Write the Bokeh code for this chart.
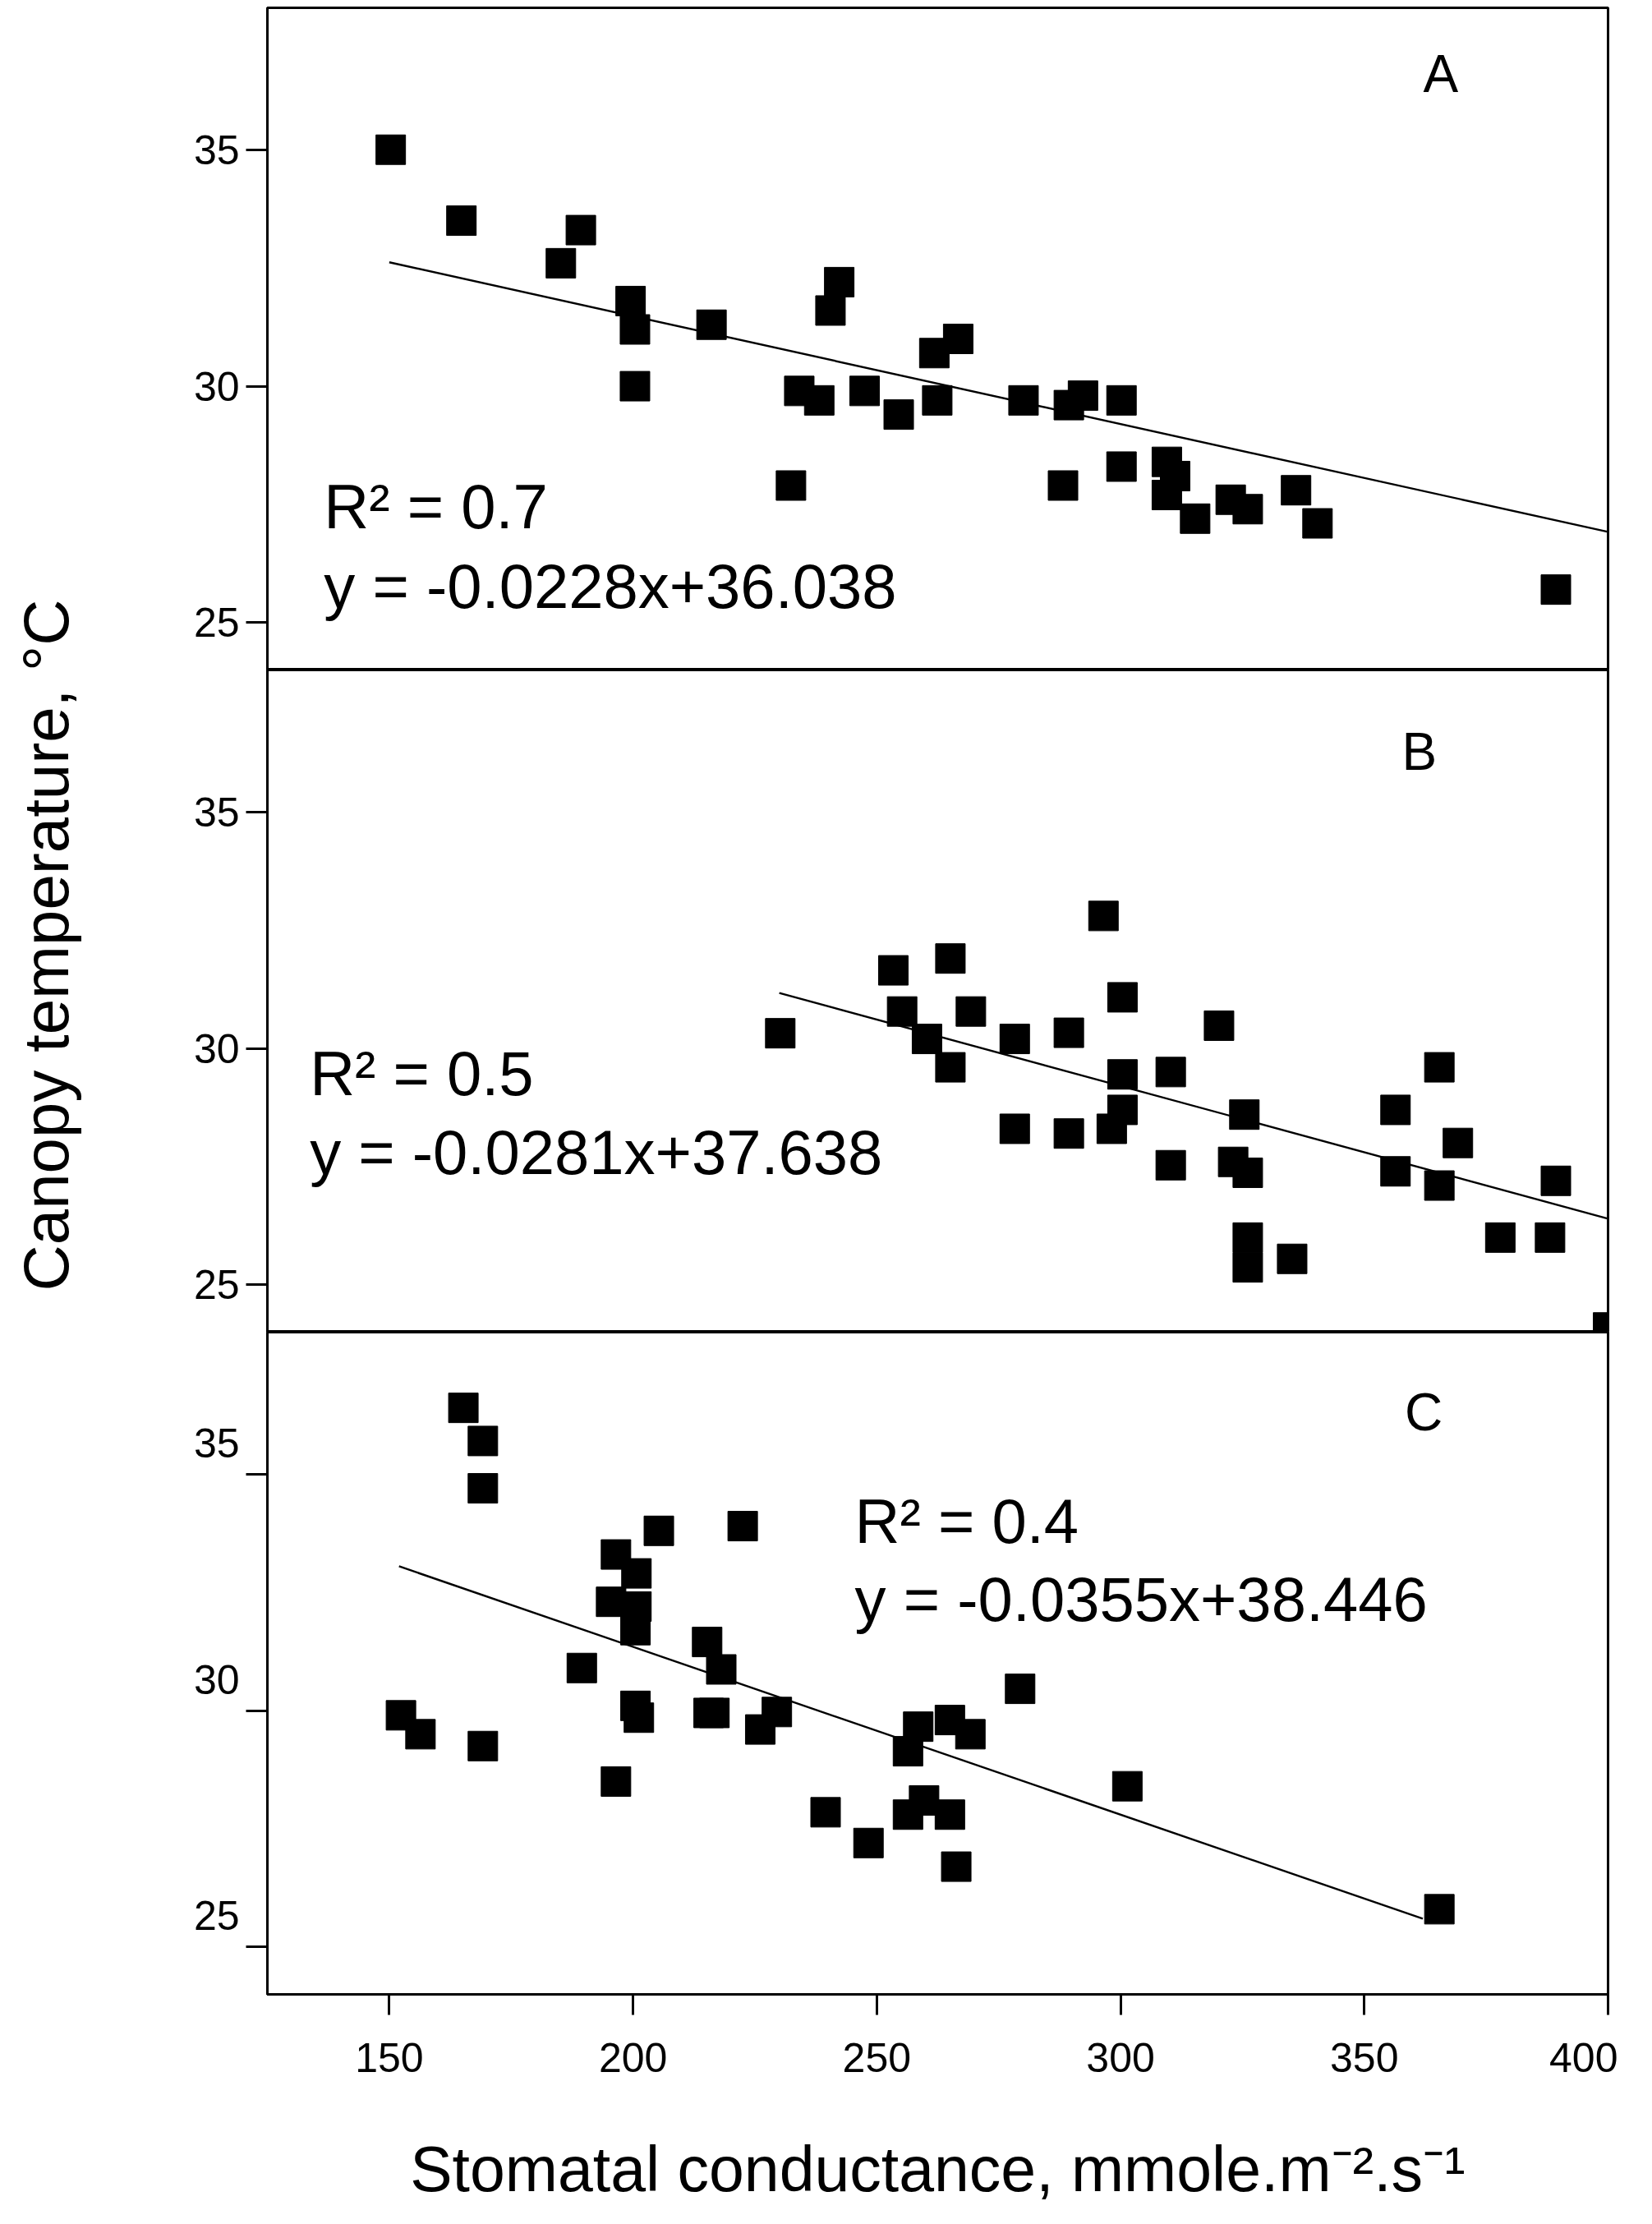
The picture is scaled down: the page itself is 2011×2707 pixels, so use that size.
import math
from bokeh.plotting import figure
from bokeh.models import Range1d, FixedTicker, Label, LinearAxis
from bokeh.layouts import column, row
from bokeh.embed import file_html
from bokeh.resources import INLINE

# ---------------- data ----------------
a_x = [150.3, 164.8, 185.2, 189.3, 199.5, 200.4, 200.4, 216.1, 232.4, 234.1, 238.2,
       240.5, 242.3, 247.5, 254.5, 261.8, 262.4, 266.7, 280.1, 288.2, 289.4, 292.3,
       300.2, 300.2, 309.5, 309.5, 311.2, 315.3, 322.6, 326.1, 336.0, 340.4, 389.3]
a_y = [35.0, 33.5, 32.6, 33.3, 31.8, 31.2, 30.0, 31.3, 27.9, 29.9, 29.7,
       31.6, 32.2, 29.9, 29.4, 30.7, 29.7, 31.0, 29.7, 27.9, 29.6, 29.8,
       29.7, 28.3, 28.4, 27.7, 28.1, 27.2, 27.6, 27.4, 27.8, 27.1, 25.7]

b_x = [230.2, 253.4, 255.2, 260.3, 265.1, 265.1, 269.3, 278.3, 278.3, 289.4, 289.4,
       296.5, 298.2, 300.4, 300.4, 300.4, 310.3, 310.3, 320.2, 323.1, 325.4, 326.1,
       326.1, 326.1, 335.2, 356.4, 356.4, 365.4, 365.4, 369.2, 377.9, 388.1, 389.3, 400.0]
b_y = [30.32, 31.65, 30.78, 30.2, 31.9, 29.6, 30.78, 30.2, 28.3, 30.33, 28.2,
       32.8, 28.3, 31.08, 29.45, 28.7, 29.5, 27.53, 30.48, 27.6, 28.6, 27.37,
       26.0, 25.37, 25.55, 28.7, 27.4, 29.6, 27.1, 28.0, 26.0, 26.0, 27.2, 24.1]

c_x = [165.2, 169.2, 169.2, 152.4, 156.4, 169.2, 189.5, 196.5, 196.5, 200.7, 195.5,
       200.7, 200.5, 200.5, 201.2, 205.3, 215.2, 218.1, 215.5, 216.7, 222.5, 226.1,
       229.5, 239.5, 248.3, 256.4, 258.5, 256.4, 259.7, 265.0, 265.0, 266.3, 269.2,
       279.4, 301.4, 365.4]
c_y = [36.4, 35.7, 34.7, 29.9, 29.5, 29.25, 30.9, 28.5, 33.3, 32.9, 32.3,
       32.2, 31.7, 30.1, 29.85, 33.8, 31.45, 30.87, 29.95, 29.95, 33.9, 29.6,
       29.97, 27.85, 27.2, 29.14, 29.66, 27.8, 28.1, 29.8, 27.8, 26.7, 29.5,
       30.46, 28.4, 25.8]

# regression line end points
a_line_x = [150, 400]
a_line_y = [32.62, 26.92]
b_line_x = [230, 400]
b_line_y = [31.17, 26.40]
c_line_x = [152, 362]
c_line_y = [33.05, 25.6]

y_ticks = [25, 30, 35]
x_ticks = [150, 200, 250, 300, 350, 400]

panel_letters = ["A", "B", "C"]
r2_texts = ["R\u00b2 = 0.7", "R\u00b2 = 0.5", "R\u00b2 = 0.4"]
eq_texts = ["y = -0.0228x+36.038", "y = -0.0281x+37.638", "y = -0.0355x+38.446"]

x_label = "Stomatal conductance, mmole.m\u207b\u00b2.s\u207b\u00b9"
y_label = "Canopy temperature, \u00b0C"

# ---------------- style ----------------
FONT = "Liberation Sans"
FRAME_W = 1632
FRAME_H = 806
LABEL_W = 110
LEFT = 215
RIGHT = 12
TOP_A = 9
BOTTOM_C = 255
TOTAL_H = TOP_A + 3 * FRAME_H + BOTTOM_C
TXT_SHIFT = 0.45
LET_SHIFT = 0.40


def style_y(ax, show_labels=True, tick=True):
    ax.ticker = FixedTicker(ticks=y_ticks)
    ax.axis_line_width = 3
    ax.major_tick_line_width = 3
    ax.major_tick_out = 26 if tick else 0
    ax.major_tick_in = 0
    ax.minor_tick_out = 0
    ax.minor_tick_in = 0
    ax.major_label_text_font = FONT
    ax.major_label_text_font_size = "50px"
    ax.major_label_text_color = "black"
    ax.major_label_standoff = 8
    if not show_labels:
        ax.major_label_overrides = {t: "" for t in y_ticks}
        ax.major_label_text_color = None
        ax.major_label_standoff = 0


def make_panel(xs, ys, lx, ly, letter, letter_pos, r2, r2_pos, eq, eq_pos,
               top, bottom, show_x, raise_ticks=False):
    p = figure(frame_width=FRAME_W, frame_height=FRAME_H,
               x_range=Range1d(125, 400), y_range=Range1d(24, 38),
               output_backend="svg", toolbar_location=None, title=None,
               min_border_left=LEFT, min_border_right=RIGHT,
               min_border_top=top, min_border_bottom=bottom,
               x_axis_location="below" if show_x else None)
    p.background_fill_color = "white"
    p.border_fill_color = "white"
    p.outline_line_color = "black"
    p.outline_line_width = 3
    p.grid.visible = False

    if raise_ticks:
        # ticks on the main axis, labels drawn slightly higher on a second axis
        style_y(p.yaxis[0], show_labels=False)
        p.extra_y_ranges = {"lab": Range1d(24 - 0.66, 38 - 0.66)}
        lab_ax = LinearAxis(y_range_name="lab")
        style_y(lab_ax, show_labels=True, tick=False)
        lab_ax.axis_line_color = None
        lab_ax.major_tick_line_color = None
        lab_ax.major_label_standoff = 8
        p.add_layout(lab_ax, "left")
    else:
        style_y(p.yaxis[0])

    if show_x:
        xa = p.xaxis[0]
        xa.ticker = FixedTicker(ticks=x_ticks)
        xa.axis_line_width = 3
        xa.major_tick_line_width = 3
        xa.major_tick_out = 25
        xa.major_tick_in = 0
        xa.minor_tick_out = 0
        xa.minor_tick_in = 0
        xa.major_label_text_font = FONT
        xa.major_label_text_font_size = "50px"
        xa.major_label_text_color = "black"
        xa.major_label_standoff = 34
        xa.axis_label = x_label
        xa.axis_label_text_font = FONT
        xa.axis_label_text_font_size = "77px"
        xa.axis_label_text_font_style = "normal"
        xa.axis_label_text_color = "black"
        xa.axis_label_standoff = 72

    p.line(lx, ly, line_color="black", line_width=2.4)
    p.scatter(xs, ys, marker="square", size=36, fill_color="black", line_color="black")

    p.add_layout(Label(x=letter_pos[0], y=letter_pos[1] + LET_SHIFT, text=letter,
                       text_align="center", text_baseline="alphabetic", text_font=FONT,
                       text_font_size="64px", text_color="black"))
    p.add_layout(Label(x=r2_pos[0], y=r2_pos[1] + TXT_SHIFT, text=r2, text_align="left",
                       text_baseline="alphabetic", text_font=FONT, text_font_size="76px",
                       text_color="black"))
    p.add_layout(Label(x=eq_pos[0], y=eq_pos[1] + TXT_SHIFT, text=eq, text_align="left",
                       text_baseline="alphabetic", text_font=FONT, text_font_size="76px",
                       text_color="black"))
    return p


pa = make_panel(a_x, a_y, a_line_x, a_line_y, panel_letters[0], (365.7, 36.2),
                r2_texts[0], (136.6, 27.0), eq_texts[0], (136.6, 25.33),
                top=TOP_A, bottom=0, show_x=False)
pb = make_panel(b_x, b_y, b_line_x, b_line_y, panel_letters[1], (361.3, 35.87),
                r2_texts[1], (133.7, 29.03), eq_texts[1], (133.7, 27.35),
                top=0, bottom=0, show_x=False)
pc = make_panel(c_x, c_y, c_line_x, c_line_y, panel_letters[2], (362.2, 35.9),
                r2_texts[2], (245.5, 33.56), eq_texts[2], (245.5, 31.9),
                top=0, bottom=BOTTOM_C, show_x=True, raise_ticks=True)

# narrow strip holding the shared y-axis title (pixel-based ranges, top-down)
pl = figure(frame_width=LABEL_W, frame_height=TOTAL_H,
            x_range=Range1d(0, LABEL_W), y_range=Range1d(TOTAL_H, 0),
            output_backend="svg", toolbar_location=None, title=None,
            min_border=0, x_axis_location=None, y_axis_location=None)
pl.outline_line_color = None
pl.grid.visible = False
pl.background_fill_color = "white"
pl.border_fill_color = "white"
pl.add_layout(Label(x=55, y=1150, text=y_label, angle=math.pi / 2,
                    text_align="center", text_baseline="middle", text_font=FONT,
                    text_font_size="78px", text_color="black"))

layout = row(pl, column(pa, pb, pc, spacing=0), spacing=0)
open("out.html", "w").write(file_html(layout, INLINE))
